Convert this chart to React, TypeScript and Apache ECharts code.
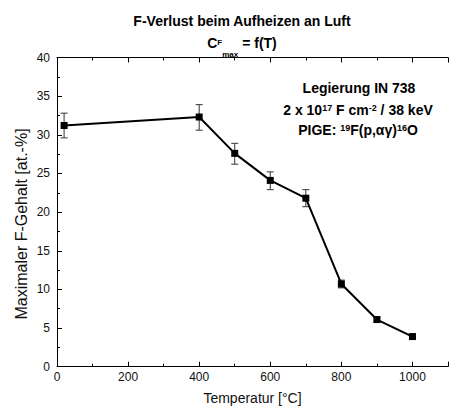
import React, { useEffect, useRef } from "react";
import * as echarts from "echarts";

const temps = [20, 400, 500, 600, 700, 800, 900, 1000];
const values = [31.2, 32.3, 27.6, 24.1, 21.8, 10.7, 6.1, 3.9];
const errLow = [29.6, 30.6, 26.2, 22.9, 20.7, 10.2, 5.8, 3.6];
const errHigh = [32.8, 33.9, 28.9, 25.2, 22.9, 11.2, 6.4, 4.2];

const xTicks = [0, 200, 400, 600, 800, 1000];
const yTicks = [0, 5, 10, 15, 20, 25, 30, 35, 40];

const FONT = "'Liberation Sans', Arial, sans-serif";

export default function App() {
  const ref = useRef<HTMLDivElement>(null);
  useEffect(() => {
    if (!ref.current) return;
    const chart = echarts.init(ref.current, undefined, { renderer: "svg" });
    const lineData = temps.map((t, i) => [t, values[i]]);
    const errData = temps.map((t, i) => [t, errLow[i], errHigh[i]]);
    const bold = { fontFamily: FONT, fontWeight: "bold", fontSize: 14, lineHeight: 18, verticalAlign: "top", fill: "#000" };
    const sup = { fontFamily: FONT, fontWeight: "bold", fontSize: 9, lineHeight: 9, verticalAlign: "top", fill: "#000" };
    const tickAxis = {
      axisLine: { show: true, lineStyle: { color: "#000", width: 1 } },
      axisTick: { show: true, inside: true, length: 5, lineStyle: { color: "#000" } },
      minorTick: { show: true, splitNumber: 2, length: 3, lineStyle: { color: "#000" } },
      splitLine: { show: false },
    };
    chart.setOption({
      animation: false,
      backgroundColor: "#fff",
      grid: { left: 57, top: 57.5, right: -10, bottom: 43.3, containLabel: false },
      xAxis: [
        {
          type: "value",
          min: 0,
          max: 1100,
          interval: 200,
          position: "bottom",
          ...tickAxis,
          axisLabel: {
            margin: 4,
            fontFamily: FONT,
            fontSize: 12,
            color: "#111",
            formatter: (v: number) => (xTicks.includes(v) ? String(v) : ""),
          },
          name: "Temperatur [°C]",
          nameLocation: "middle",
          nameGap: 24,
          nameTextStyle: { fontFamily: FONT, fontSize: 14, color: "#111" },
        },
        {
          type: "value",
          min: 0,
          max: 1100,
          interval: 200,
          position: "top",
          ...tickAxis,
          axisLabel: { show: false },
        },
      ],
      yAxis: {
        type: "value",
        min: 0,
        max: 40,
        interval: 5,
        ...tickAxis,
        axisLabel: {
          margin: 7,
          fontFamily: FONT,
          fontSize: 12,
          color: "#111",
          formatter: (v: number) => (yTicks.includes(v) ? String(v) : ""),
        },
      },
      graphic: [
        {
          type: "text",
          x: 242,
          y: 21,
          style: { text: "F-Verlust beim Aufheizen an Luft", fontFamily: FONT, fontWeight: "bold", fontSize: 14, fill: "#000", align: "center", verticalAlign: "middle" },
        },
        {
          type: "text",
          x: 242,
          y: 36,
          style: {
            text: "{b|C}{sp|F}{sb|max}{b| = f(T)}",
            align: "center",
            verticalAlign: "top",
            rich: {
              b: bold,
              sp: { ...sup, fontSize: 8, lineHeight: 8, padding: [2, 0, 0, 0] },
              sb: { ...sup, fontSize: 8, lineHeight: 8, padding: [14, 0, 0, 0] },
            },
          },
        },
        {
          type: "text",
          x: 21.5,
          y: 224,
          rotation: Math.PI / 2,
          style: { text: "Maximaler F-Gehalt [at.-%]", fontFamily: FONT, fontSize: 16, fill: "#111", align: "center", verticalAlign: "middle" },
        },
        {
          type: "text",
          x: 359,
          y: 81,
          style: { text: "{b|Legierung IN 738}", align: "center", verticalAlign: "top", rich: { b: bold } },
        },
        {
          type: "text",
          x: 358,
          y: 103,
          style: { text: "{b|2 x 10}{s|17}{b| F cm}{s|-2}{b| / 38 keV}", align: "center", verticalAlign: "top", rich: { b: bold, s: sup } },
        },
        {
          type: "text",
          x: 358,
          y: 123,
          style: { text: "{b|PIGE: }{s|19}{b|F(p,αγ)}{s|16}{b|O}", align: "center", verticalAlign: "top", rich: { b: bold, s: sup } },
        },
      ],
      series: [
        {
          type: "custom",
          z: 2,
          data: errData,
          renderItem: (params: any, api: any) => {
            const x = api.value(0);
            const top = api.coord([x, api.value(2)]);
            const bot = api.coord([x, api.value(1)]);
            const w = 3.5;
            const st = { stroke: "#333", lineWidth: 1 };
            return {
              type: "group",
              children: [
                { type: "line", shape: { x1: top[0], y1: top[1], x2: bot[0], y2: bot[1] }, style: st },
                { type: "line", shape: { x1: top[0] - w, y1: top[1], x2: top[0] + w, y2: top[1] }, style: st },
                { type: "line", shape: { x1: bot[0] - w, y1: bot[1], x2: bot[0] + w, y2: bot[1] }, style: st },
              ],
            };
          },
        },
        {
          type: "line",
          z: 5,
          data: lineData,
          symbol: "rect",
          symbolSize: 7,
          lineStyle: { color: "#000", width: 2 },
          itemStyle: { color: "#000" },
        },
      ],
    });
    return () => chart.dispose();
  }, []);
  return <div ref={ref} style={{ position: "fixed", left: 0, top: 0, width: 451, height: 410 }} />;
}
